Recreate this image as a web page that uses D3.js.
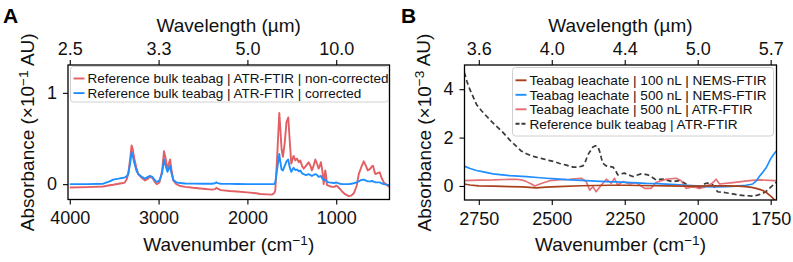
<!DOCTYPE html>
<html><head><meta charset="utf-8">
<script src="https://cdn.jsdelivr.net/npm/d3@7"></script>
<style>
html,body{margin:0;padding:0;background:#fff;}
svg{display:block;font-family:"Liberation Sans",Arial,Helvetica,sans-serif;}
</style></head>
<body><svg id="c" width="793" height="262"></svg>
<script>
// ---------- Panel A data ----------
const aWn = [4000,3800,3624,3550,3511,3450,3400,3379,3360,3342,3320,3304,3290,3278,3250,3229,3190,3153,3120,3097,3070,3040,3021,2990,2960,2939,2920,2901,2885,2871,2855,2834,2800,2758,2700,2612,2500,2400,2365,2350,2335,2300,2200,2119,2000,1900,1856,1780,1724,1700,1686,1667,1650,1641,1630,1615,1600,1580,1560,1540,1525,1506,1480,1460,1441,1420,1404,1385,1367,1340,1311,1290,1274,1255,1235,1215,1198,1185,1172,1155,1141,1130,1123,1110,1104,1080,1047,1020,1000,991,960,934,900,859,830,802,770,746,720,690,665,645,615,595,584,570,558,535,510,490,464,430,400];
const aNonCorrected = [-0.036,-0.032,-0.025,-0.012,-0.006,0.005,0.012,0.02,0.05,0.11,0.28,0.425,0.38,0.30,0.18,0.11,0.07,0.04,0.06,0.08,0.07,0.02,0.0,0.02,0.15,0.36,0.28,0.17,0.22,0.27,0.16,0.04,0.0,-0.02,-0.03,-0.04,-0.05,-0.06,-0.055,-0.04,-0.05,-0.065,-0.075,-0.08,-0.09,-0.1,-0.108,-0.112,-0.115,-0.10,-0.07,0.26,0.6,0.78,0.62,0.38,0.30,0.45,0.68,0.73,0.5,0.225,0.31,0.26,0.28,0.24,0.26,0.2,0.17,0.2,0.24,0.2,0.15,0.2,0.27,0.22,0.17,0.2,0.24,0.14,0.0,0.1,0.15,0.06,-0.01,-0.02,-0.03,-0.03,-0.015,-0.02,-0.05,-0.08,-0.11,-0.13,-0.125,-0.10,-0.02,0.11,0.18,0.25,0.2,0.15,0.17,0.2,0.2,0.14,0.11,0.12,0.13,0.07,0.02,-0.01,-0.03];
const aCorrected = [0.0,0.0,0.005,0.03,0.05,0.06,0.07,0.075,0.085,0.11,0.23,0.35,0.31,0.25,0.15,0.11,0.08,0.06,0.08,0.09,0.08,0.04,0.025,0.04,0.12,0.27,0.2,0.135,0.17,0.20,0.12,0.045,0.02,0.012,0.008,0.006,0.005,0.005,0.01,0.02,0.012,0.005,0.003,0.002,0.0,0.0,0.0,0.0,0.0,0.0,0.02,0.15,0.27,0.33,0.25,0.16,0.15,0.2,0.25,0.27,0.19,0.135,0.18,0.155,0.16,0.14,0.15,0.12,0.11,0.1,0.11,0.1,0.09,0.1,0.11,0.1,0.08,0.085,0.09,0.06,0.045,0.05,0.05,0.03,0.025,0.02,0.015,0.012,0.02,0.015,0.005,0.0,0.0,0.0,0.005,0.01,0.02,0.03,0.045,0.05,0.04,0.03,0.03,0.035,0.03,0.025,0.02,0.02,0.02,0.01,0.0,-0.005,-0.01];
const aLabels = ["Reference bulk teabag | ATR-FTIR | non-corrected","Reference bulk teabag | ATR-FTIR | corrected"];
const aXTicks = [4000,3000,2000,1000];
const aYTicks = [0,1];

// ---------- Panel B data ----------
const bWnRef = [2800,2790,2781,2770,2758,2740,2724,2705,2690,2670,2655,2640,2621,2605,2587,2570,2553,2530,2507,2490,2473,2450,2427,2410,2393,2385,2376,2365,2359,2350,2342,2336,2330,2325,2315,2307,2290,2280,2274,2262,2251,2235,2222,2210,2194,2180,2171,2155,2143,2130,2114,2100,2086,2075,2063,2050,2040,2030,2017,2005,1994,1985,1975,1965,1955,1948,1940,1932,1915,1903,1880,1857,1835,1812,1795,1777,1765,1754,1745,1735,1730];
const bRef = [4.7,4.3,4.0,3.7,3.37,3.1,2.89,2.65,2.47,2.25,2.05,1.85,1.64,1.45,1.33,1.25,1.19,1.12,1.05,1.0,0.93,0.86,0.78,0.78,0.83,1.0,1.29,1.5,1.61,1.66,1.62,1.43,1.15,0.94,0.84,0.81,0.78,0.6,0.46,0.5,0.53,0.45,0.39,0.44,0.5,0.48,0.46,0.35,0.25,0.27,0.28,0.22,0.18,0.2,0.22,0.15,0.08,0.02,-0.03,-0.05,-0.06,0.0,0.1,0.12,0.08,0.04,-0.1,-0.24,-0.26,-0.28,-0.33,-0.38,-0.4,-0.42,-0.38,-0.31,-0.22,-0.1,0.0,0.12,0.16];
const bWnNems500 = [2800,2780,2758,2730,2701,2670,2644,2615,2587,2550,2519,2485,2450,2415,2382,2350,2313,2280,2245,2210,2177,2140,2108,2075,2040,2005,1971,1940,1903,1870,1835,1820,1812,1800,1789,1778,1766,1757,1749,1740,1730];
const bNems500 = [0.82,0.72,0.64,0.57,0.5,0.46,0.43,0.41,0.39,0.35,0.32,0.29,0.26,0.24,0.22,0.2,0.18,0.17,0.15,0.13,0.11,0.1,0.08,0.06,0.03,0.0,-0.03,-0.04,-0.03,-0.01,0.03,0.06,0.08,0.2,0.39,0.55,0.74,0.95,1.15,1.3,1.45];
const bWnAtr500 = [2800,2750,2700,2660,2621,2600,2587,2570,2558,2541,2507,2470,2439,2399,2382,2370,2359,2348,2330,2313,2296,2285,2274,2256,2233,2211,2182,2160,2143,2108,2074,2057,2040,2017,1994,1971,1948,1937,1925,1880,1823,1789,1737,1730];
const bAtr500 = [0.22,0.24,0.25,0.27,0.28,0.24,0.18,0.08,0.0,0.08,0.22,0.26,0.28,0.32,0.18,-0.17,-0.03,-0.24,0.04,0.28,0.11,0.32,0.04,0.18,0.08,0.14,-0.1,-0.1,0.14,0.28,0.32,0.22,-0.1,-0.03,-0.1,-0.03,0.14,0.28,0.08,0.14,0.22,0.25,0.22,0.22];
const bWnNems100 = [2800,2780,2750,2700,2644,2600,2553,2520,2480,2400,2350,2300,2250,2200,2150,2100,2050,2000,1948,1900,1860,1835,1815,1800,1788,1777,1765,1754,1745,1737,1730];
const bNems100 = [0.08,0.04,0.0,-0.01,-0.03,-0.04,-0.08,-0.05,-0.03,0.01,0.02,0.03,0.03,0.02,0.01,0.0,-0.01,-0.01,0.0,0.0,-0.01,-0.03,-0.06,-0.1,-0.14,-0.19,-0.27,-0.38,-0.47,-0.58,-0.64];
const bLabels = ["Teabag leachate | 100 nL | NEMS-FTIR","Teabag leachate | 500 nL | NEMS-FTIR","Teabag leachate | 500 nL | ATR-FTIR","Reference bulk teabag | ATR-FTIR"];
const bXTicks = [2750,2500,2250,2000,1750];
const bYTicks = [0,2,4];

// ---------- styles ----------
const RED = "#e25f63", BLUE = "#1f8fff", BROWN = "#a9401b", DARK = "#3a3a3a";

const svg = d3.select("#c");

function sup(sel, before, s, after){
  sel.append("tspan").text(before);
  sel.append("tspan").attr("dy","-0.45em").attr("font-size","0.72em").text(s);
  sel.append("tspan").attr("dy","0.32em").text(after);
}

function panel(opt){
  const {x0,x1,y0,y1,xDom,yDom,xTicks,yTicks,yExp,letter,letterX} = opt;
  const x = d3.scaleLinear().domain(xDom).range([x0,x1]);
  const y = d3.scaleLinear().domain(yDom).range([y1,y0]);
  const g = svg.append("g");
  const clipId = "clip"+letter;
  g.append("clipPath").attr("id",clipId).append("rect")
    .attr("x",x0).attr("y",y0).attr("width",x1-x0).attr("height",y1-y0);

  const styleAxis = a => {
    a.select(".domain").remove();
    a.selectAll(".tick line").attr("stroke","#000").attr("stroke-width",1.1);
    a.selectAll(".tick text").attr("font-size",18).attr("fill","#111").attr("font-family","Liberation Sans, Arial, sans-serif");
  };
  g.append("g").attr("transform",`translate(0,${y1})`)
    .call(d3.axisBottom(x).tickValues(xTicks).tickSize(5).tickPadding(7).tickFormat(d3.format("d")))
    .call(styleAxis);
  g.append("g").attr("transform",`translate(0,${y0})`)
    .call(d3.axisTop(x).tickValues(xTicks).tickSize(5).tickPadding(5).tickFormat(d => (10000/d).toFixed(1)))
    .call(styleAxis);
  g.append("g").attr("transform",`translate(${x0},0)`)
    .call(d3.axisLeft(y).tickValues(yTicks).tickSize(5).tickPadding(6).tickFormat(d3.format("d")))
    .call(styleAxis);

  const lines = g.append("g").attr("clip-path",`url(#${clipId})`);
  opt.series.forEach(s => {
    const pts = s.wn.map((w,i)=>[w,s.v[i]]);
    lines.append("path").datum(pts)
      .attr("fill","none").attr("stroke",s.color).attr("stroke-width",s.width||1.6)
      .attr("stroke-dasharray",s.dash||null).attr("stroke-linejoin","round")
      .attr("opacity",s.opacity||1)
      .attr("d",d3.line().x(d=>x(d[0])).y(d=>y(d[1])));
  });

  // frame
  g.append("rect").attr("x",x0).attr("y",y0).attr("width",x1-x0).attr("height",y1-y0)
    .attr("fill","none").attr("stroke","#000").attr("stroke-width",1.3);

  // legend
  const L = opt.legend;
  const lg = g.append("g");
  lg.append("rect").attr("x",L.x).attr("y",L.y).attr("width",L.w).attr("height",L.h)
    .attr("rx",3).attr("fill","#fff").attr("fill-opacity",0.85).attr("stroke","#d0d0d0").attr("stroke-width",1);
  L.items.forEach((it,i)=>{
    const cy = L.y + L.first + i*L.step;
    lg.append("line").attr("x1",L.x+3).attr("x2",L.x+14).attr("y1",cy).attr("y2",cy)
      .attr("stroke",it.color).attr("stroke-width",it.width||1.9).attr("stroke-dasharray",it.dash||null)
      .attr("opacity",it.opacity||1);
    lg.append("text").attr("x",L.x+17).attr("y",cy+4.8).attr("font-size",L.fs).attr("fill","#111").text(it.label);
  });

  // axis titles
  const xt = g.append("text").attr("x",(x0+x1)/2).attr("y",251).attr("text-anchor","middle").attr("font-size",19).attr("fill","#111");
  sup(xt,"Wavenumber (cm","−1",")");
  g.append("text").attr("x",(x0+x1)/2).attr("y",31.5).attr("text-anchor","middle").attr("font-size",19).attr("fill","#111").text("Wavelength (µm)");
  const yt = g.append("text").attr("transform",`translate(${x0-34},${(y0+y1)/2}) rotate(-90)`).attr("text-anchor","middle").attr("font-size",19).attr("fill","#111");
  sup(yt,"Absorbance (×10","−"+yExp," AU)");

  g.append("text").attr("x",letterX).attr("y",23.3).attr("font-size",21).attr("font-weight","bold").attr("fill","#000").text(letter);
}

panel({
  x0:68, x1:389.5, y0:65, y1:199.5,
  xDom:[4020,400], yDom:[-0.168,1.305],
  xTicks:aXTicks, yTicks:aYTicks, yExp:"1", letter:"A", letterX:3,
  series:[
    {wn:aWn, v:aNonCorrected, color:RED, width:1.9},
    {wn:aWn, v:aCorrected, color:BLUE, width:1.9}
  ],
  legend:{x:70.5,y:66.5,w:318,h:35.5,first:12,step:14.6,fs:13.5,
    items:[{label:aLabels[0],color:RED},{label:aLabels[1],color:BLUE}]}
});

panel({
  x0:464.5, x1:776.5, y0:65, y1:200,
  xDom:[2799,1730], yDom:[-0.58,5.0],
  xTicks:bXTicks, yTicks:bYTicks, yExp:"3", letter:"B", letterX:401,
  series:[
    {wn:bWnRef, v:bRef, color:DARK, width:1.7, dash:"5,3"},
    {wn:bWnAtr500, v:bAtr500, color:RED, width:1.6, opacity:0.9},
    {wn:bWnNems500, v:bNems500, color:BLUE, width:1.7},
    {wn:bWnNems100, v:bNems100, color:BROWN, width:1.7}
  ],
  legend:{x:512.5,y:67.5,w:261,h:68.5,first:12.8,step:14.5,fs:13.6,
    items:[{label:bLabels[0],color:BROWN},{label:bLabels[1],color:BLUE},{label:bLabels[2],color:RED,opacity:0.9},{label:bLabels[3],color:DARK,dash:"4,2"}]}
});
</script></body></html>
